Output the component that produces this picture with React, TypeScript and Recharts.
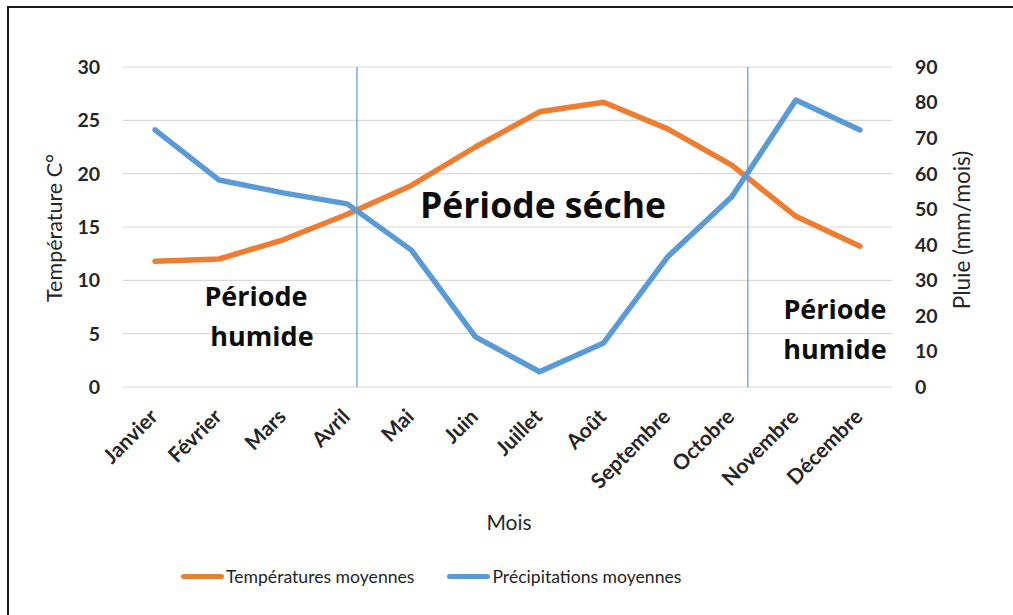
import React from 'react';
import {
    LineChart,
    Line,
    XAxis,
    YAxis,
    CartesianGrid,
    Legend,
    ReferenceLine,
    Customized,
} from 'recharts';

const months = [
    'Janvier', 'Février', 'Mars', 'Avril', 'Mai', 'Juin',
    'Juillet', 'Août', 'Septembre', 'Octobre', 'Novembre', 'Décembre',
];
const temperatures = [11.8, 12.0, 13.8, 16.2, 18.9, 22.5, 25.8, 26.7, 24.2, 20.8, 16.0, 13.2];
const precipitations = [72.3, 58.2, 54.6, 51.5, 38.5, 14.1, 4.3, 12.4, 36.6, 53.5, 80.7, 72.3];
const tempTicks = [0, 5, 10, 15, 20, 25, 30];
const rainTicks = [0, 10, 20, 30, 40, 50, 60, 70, 80, 90];
const monthTicks = months.map((_, i) => i);
// limites des saisons (en position de mois)
const seasonBounds = [3.15, 9.25];

const data = months.map((m, i) => ({
    idx: i,
    month: m,
    temp: temperatures[i],
    pluie: precipitations[i],
}));

const FONT = "Lato, 'Open Sans', sans-serif";
const WIDE = "'Open Sans', Lato, sans-serif";
const ORANGE = '#ED7D31';
const BLUE = '#5B9BD5';

function MonthTick(props: any) {
    const { x, payload } = props;
    return (
        <g transform={`translate(${x + 4},${418})`}>
            <text
                textAnchor="end"
                transform="rotate(-45)"
                fontFamily={FONT}
                fontWeight={700}
                fontSize={21}
                fill="#262626"
            >
                {months[payload.value]}
            </text>
        </g>
    );
}

function Annotations() {
    const big = { fontFamily: WIDE, fontWeight: 700, fill: '#0d0d0d' };
    return (
        <g>
            <text x={543} y={218} textAnchor="middle" fontSize={35.5} {...big}>Période séche</text>
            <text x={256} y={306} textAnchor="middle" fontSize={27} {...big}>Période</text>
            <text x={262} y={346} textAnchor="middle" fontSize={27} {...big}>humide</text>
            <text x={835} y={319} textAnchor="middle" fontSize={27} {...big}>Période</text>
            <text x={835} y={359} textAnchor="middle" fontSize={27} {...big}>humide</text>

            <text
                transform="translate(62,228) rotate(-90)"
                textAnchor="middle"
                fontFamily={FONT}
                fontSize={21.5}
                fill="#262626"
            >
                Température C°
            </text>
            <text
                transform="translate(970,230) rotate(-90)"
                textAnchor="middle"
                fontFamily={FONT}
                fontSize={22.5}
                fill="#262626"
            >
                Pluie (mm/mois)
            </text>
            <text x={509} y={530} textAnchor="middle" fontFamily={FONT} fontSize={21} fill="#262626">
                Mois
            </text>
        </g>
    );
}

function LegendContent() {
    const items = [
        { label: 'Températures moyennes', color: ORANGE },
        { label: 'Précipitations moyennes', color: BLUE },
    ];
    return (
        <div style={{ display: 'flex', justifyContent: 'flex-start', paddingLeft: 181, gap: 33, fontFamily: FONT, fontSize: 17.6, color: '#1f1f1f' }}>
            {items.map((it) => (
                <div key={it.label} style={{ display: 'flex', alignItems: 'center' }}>
                    <span style={{ display: 'inline-block', width: 43, height: 5, borderRadius: 3, background: it.color, marginRight: 2 }} />
                    <span>{it.label}</span>
                </div>
            ))}
        </div>
    );
}

export default function App() {
    return (
        <div style={{ position: 'absolute', left: 0, top: 0, width: 1013, height: 615, background: '#fff' }}>
            <div
                style={{
                    position: 'absolute',
                    left: 7,
                    top: 6,
                    right: 0,
                    bottom: 0,
                    borderLeft: '2px solid #1a1a1a',
                    borderTop: '2px solid #1a1a1a',
                }}
            />
            <LineChart
                width={1013}
                height={615}
                data={data}
                margin={{ top: 67, right: 0, bottom: 0, left: 0 }}
                style={{ position: 'absolute', left: 0, top: 0 }}
            >
                <CartesianGrid vertical={false} stroke="#D9D9D9" strokeWidth={1.2} yAxisId="left" />
                <XAxis
                    dataKey="idx"
                    type="number"
                    domain={[-0.5, 11.5]}
                    ticks={monthTicks}
                    interval={0}
                    height={228}
                    axisLine={false}
                    tickLine={false}
                    tick={<MonthTick />}
                />
                <YAxis
                    yAxisId="left"
                    domain={[0, 30]}
                    ticks={tempTicks}
                    width={123}
                    axisLine={false}
                    tickLine={false}
                    tickSize={0}
                    tickMargin={23}
                    tick={{ fontFamily: FONT, fontWeight: 700, fontSize: 19.5, fill: '#262626' }}
                />
                <YAxis
                    yAxisId="right"
                    orientation="right"
                    domain={[0, 90]}
                    ticks={rainTicks}
                    width={121}
                    axisLine={false}
                    tickLine={false}
                    tickSize={0}
                    tickMargin={23}
                    tick={{ fontFamily: FONT, fontWeight: 700, fontSize: 19.5, fill: '#262626' }}
                />
                <Line
                    yAxisId="left"
                    dataKey="temp"
                    name="Températures moyennes"
                    stroke={ORANGE}
                    strokeWidth={5.5}
                    strokeLinejoin="round"
                    strokeLinecap="round"
                    dot={false}
                    activeDot={false}
                    isAnimationActive={false}
                />
                <Line
                    yAxisId="right"
                    dataKey="pluie"
                    name="Précipitations moyennes"
                    stroke={BLUE}
                    strokeWidth={5.5}
                    strokeLinejoin="round"
                    strokeLinecap="round"
                    dot={false}
                    activeDot={false}
                    isAnimationActive={false}
                />
                {seasonBounds.map((b) => (
                    <ReferenceLine key={b} yAxisId="left" x={b} stroke={BLUE} strokeWidth={1.2} />
                ))}
                <Customized component={<Annotations />} />
                <Legend
                    verticalAlign="middle"
                    align="center"
                    content={<LegendContent />}
                    wrapperStyle={{ position: 'absolute', top: 566, left: 0, width: 1013 }}
                />
            </LineChart>
        </div>
    );
}
